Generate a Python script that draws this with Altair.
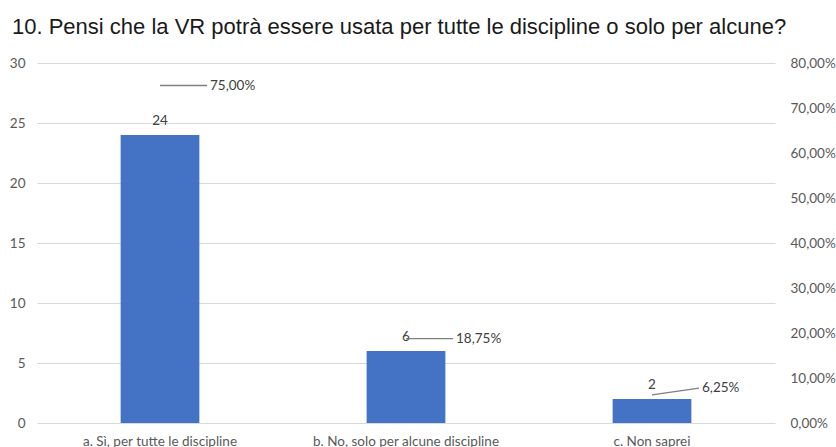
import altair as alt
import pandas as pd

title_text = "10. Pensi che la VR potrà essere usata per tutte le discipline o solo per alcune?"
categories = ["a. Sì, per tutte le discipline", "b. No, solo per alcune discipline", "c. Non saprei"]
counts = [24, 6, 2]
percents = [0.75, 0.1875, 0.0625]
left_ticks = [0, 5, 10, 15, 20, 25, 30]
right_ticks = [0, 0.1, 0.2, 0.3, 0.4, 0.5, 0.6, 0.7, 0.8]

df = pd.DataFrame({"cat": categories, "count": counts, "pct": percents})

FONT = "Lato"
LAB = "#595959"
TXT = "#404040"
FS = 13.5

x = alt.X(
    "cat:N",
    sort=categories,
    scale=alt.Scale(paddingInner=0.68, paddingOuter=0.34),
    axis=alt.Axis(title=None, labelAngle=0, ticks=False, domain=False, labelFont=FONT,
                  labelFontSize=FS, labelColor=LAB, labelPadding=11, labelLimit=400),
)

base = alt.Chart(df)

y_left = alt.Y(
    "count:Q",
    scale=alt.Scale(domain=[0, 30], nice=False),
    axis=alt.Axis(values=left_ticks, title=None, ticks=False, domain=False, grid=True,
                  gridColor="#d9d9d9", gridWidth=1.2, labelFont=FONT, labelFontSize=FS,
                  labelColor=LAB, labelPadding=12),
)

bars = base.mark_bar(color="#4472C4").encode(x=x, y=y_left)
count_text = base.mark_text(baseline="bottom", dy=-7, font=FONT, fontSize=FS, color=TXT).encode(
    x=x, y=alt.Y("count:Q"), text="count:Q"
)
left = alt.layer(bars, count_text)

y_right = alt.Y(
    "pct:Q",
    scale=alt.Scale(domain=[0, 0.8], nice=False),
    axis=alt.Axis(orient="right", values=right_ticks,
                  labelExpr="replace(format(datum.value, '.2%'), '.', ',')",
                  title=None, ticks=False, domain=False, grid=False, labelFont=FONT,
                  labelFontSize=FS, labelColor=LAB, labelPadding=15),
)

pct_base = base.transform_calculate(
    lab="datum.cat == 'c. Non saprei' ? datum.pct + 0.015 : datum.pct",
    txt="replace(format(datum.pct, '.2%'), '.', ',')",
)

leader = pct_base.mark_rule(color="#7f7f7f", strokeWidth=1.3, x2Offset=47).encode(
    x=x, x2=alt.X2("cat:N", bandPosition=0.5), y=y_right, y2="lab:Q"
)
pct_text = pct_base.mark_text(align="left", dx=50, baseline="middle", font=FONT, fontSize=FS,
                              color=TXT).encode(x=x, y=alt.Y("lab:Q"), text="txt:N")
right = alt.layer(leader, pct_text)

chart = (
    alt.layer(left, right)
    .resolve_scale(y="independent")
    .properties(
        width=738,
        height=360,
        title=alt.TitleParams(title_text, anchor="start", frame="group", font="Liberation Sans",
                              fontSize=22, fontWeight="normal", color="#1a1a1a", offset=17, dx=-25),
        autosize=alt.AutoSizeParams(type="none"),
        padding={"left": 37, "top": 63, "right": 61, "bottom": 24},
    )
    .configure_view(stroke=None)
)

chart.save("out.html", embed_options={"renderer": "svg", "actions": False})
